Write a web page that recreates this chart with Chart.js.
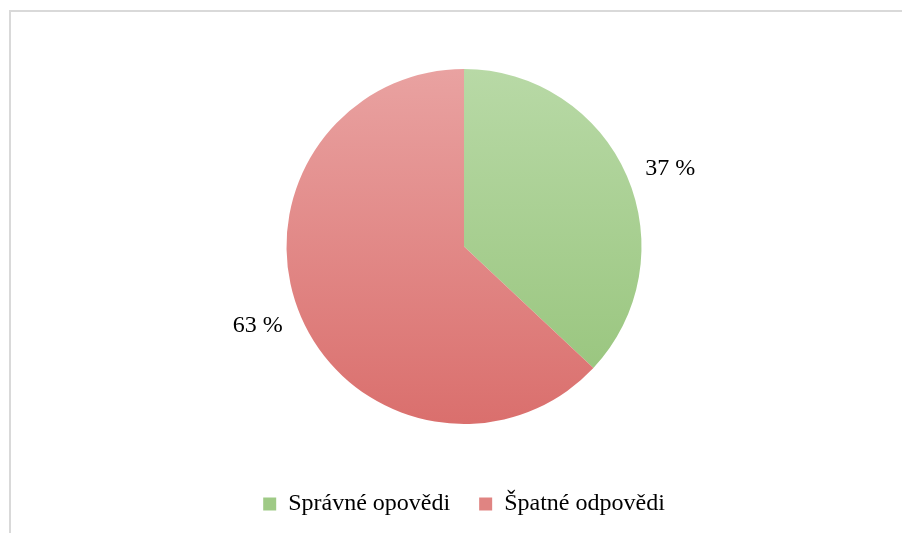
<!DOCTYPE html>
<html>
<head>
<meta charset="utf-8">
<script src="https://cdn.jsdelivr.net/npm/chart.js@4/dist/chart.umd.min.js"></script>
<style>
  html, body { margin: 0; padding: 0; background: #ffffff; }
  #wrap { width: 902px; height: 533px; position: relative; }
</style>
</head>
<body>
<div id="wrap"><canvas id="pie-chart"></canvas></div>
<script>
// Data
const categories = ['Správné opovědi', 'Špatné odpovědi'];
const shares = [37, 63];
const shareLabels = ['37 %', '63 %'];

// Colours (top / bottom of the gradient, legend swatch)
const topColors = ['#b8d9a6', '#e9a2a1'];
const bottomColors = ['#95c379', '#da6f6d'];
const swatchColors = ['#9fca86', '#e08482'];

// Vertical gradient across the pie, built from the chart area
function sliceGradient(context) {
  const chart = context.chart;
  const area = chart.chartArea;
  if (!area) return topColors[context.dataIndex];
  const g = chart.ctx.createLinearGradient(0, area.top, 0, area.bottom);
  g.addColorStop(0, topColors[context.dataIndex]);
  g.addColorStop(1, bottomColors[context.dataIndex]);
  return g;
}

// Light grey frame lines (top and left) like the cropped chart border
const framePlugin = {
  id: 'frame',
  beforeDraw(chart) {
    const ctx = chart.ctx;
    ctx.save();
    ctx.strokeStyle = '#d9d9d9';
    ctx.lineWidth = 2;
    ctx.beginPath();
    ctx.moveTo(10, chart.height);
    ctx.lineTo(10, 11);
    ctx.lineTo(chart.width, 11);
    ctx.stroke();
    ctx.restore();
  }
};

// Percent labels just outside each slice, aligned away from the pie
const outsideLabels = {
  id: 'outsideLabels',
  afterDatasetsDraw(chart) {
    const ctx = chart.ctx;
    const meta = chart.getDatasetMeta(0);
    ctx.save();
    ctx.font = '24px "Liberation Serif", "Times New Roman", serif';
    ctx.fillStyle = '#000000';
    ctx.textBaseline = 'middle';
    meta.data.forEach((arc, i) => {
      const p = arc.getProps(['x', 'y', 'startAngle', 'endAngle', 'outerRadius'], true);
      const mid = (p.startAngle + p.endAngle) / 2;
      const r = p.outerRadius + 20;
      const cos = Math.cos(mid);
      ctx.textAlign = cos >= 0 ? 'left' : 'right';
      ctx.fillText(shareLabels[i], p.x + cos * r, p.y + Math.sin(mid) * r + 1);
    });
    ctx.restore();
  }
};

const ctx = document.getElementById('pie-chart').getContext('2d');

new Chart(ctx, {
  type: 'pie',
  data: {
    labels: categories,
    datasets: [{
      data: shares,
      backgroundColor: sliceGradient,
      borderWidth: 0
    }]
  },
  options: {
    responsive: true,
    maintainAspectRatio: false,
    animation: false,
    layout: {
      padding: { top: 69, left: 40, right: 14, bottom: 7 }
    },
    plugins: {
      tooltip: { enabled: false },
      legend: {
        position: 'bottom',
        title: {
          display: true,
          text: ' ',
          font: { size: 10, lineHeight: 1 },
          padding: { top: 29, bottom: 0 }
        },
        labels: {
          color: '#000000',
          font: { family: '"Liberation Serif", "Times New Roman", serif', size: 24 },
          boxWidth: 13,
          boxHeight: 13,
          padding: 29,
          generateLabels(chart) {
            return categories.map((text, i) => ({
              text: text,
              fillStyle: swatchColors[i],
              strokeStyle: swatchColors[i],
              fontColor: '#000000',
              lineWidth: 0,
              hidden: false,
              index: i
            }));
          }
        }
      }
    }
  },
  plugins: [framePlugin, outsideLabels]
});
</script>
</body>
</html>
